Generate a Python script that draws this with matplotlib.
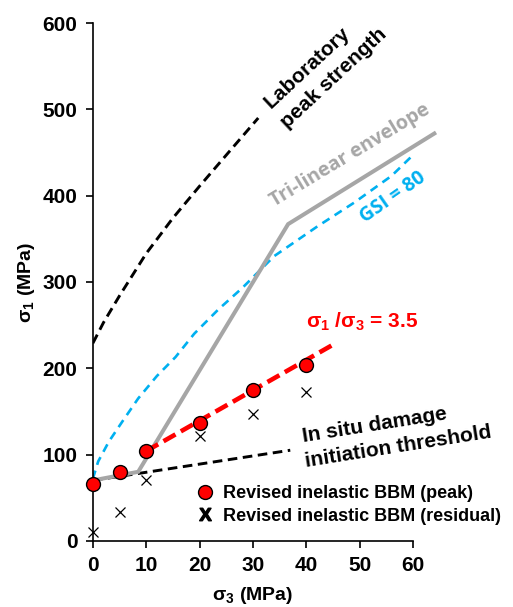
import matplotlib
matplotlib.use("Agg")
import matplotlib.pyplot as plt
from matplotlib.lines import Line2D
from matplotlib.font_manager import FontProperties

plt.rcParams['font.family'] = ['Liberation Sans', 'DejaVu Sans']
plt.rcParams['mathtext.fontset'] = 'custom'
plt.rcParams['mathtext.rm'] = 'Liberation Sans:bold'
plt.rcParams['mathtext.bf'] = 'Liberation Sans:bold'
plt.rcParams['mathtext.it'] = 'Liberation Sans:bold'
plt.rcParams['mathtext.default'] = 'bf'

# ---- data ----
peak_s3 = [0, 5, 10, 20, 30, 40]
peak_s1 = [66, 80, 104, 137, 175, 204]
resid_s3 = [0, 5, 10, 20, 30, 40]
resid_s1 = [10, 33, 70, 122, 147, 172]

lab_s3 = [0, 2, 5, 10, 15, 20, 25, 31]
lab_s1 = [229, 253, 284, 333, 374, 411, 447, 490]

gsi_s3 = [0, 1, 3, 5.5, 8.5, 12, 15.5, 19, 23.5, 28, 34, 42, 49, 56, 60]
gsi_s1 = [72, 92, 115, 138, 165, 191, 213, 240, 268, 293, 330, 364, 392, 423, 447]

tri_s3 = [0, 8.5, 36.6, 64]
tri_s1 = [70, 80, 367, 472]

dmg_s3 = [0, 37]
dmg_s1 = [70, 105]

ratio_s3 = [10, 45.5]
ratio_s1 = [104, 229]

xticks = [0, 10, 20, 30, 40, 50, 60]
yticks = [0, 100, 200, 300, 400, 500, 600]

GRAY = '#a6a6a6'
BLUE = '#00b0f0'
RED = '#ff0000'

bold = lambda size: FontProperties(family=['Liberation Sans', 'DejaVu Sans'],
                                   weight='bold', size=size)

fig = plt.figure(figsize=(5.13, 6.07), dpi=100)
ax = fig.add_axes([0.181, 0.109, 0.624, 0.853])

ax.plot(lab_s3, lab_s1, color='black', lw=2.1, dashes=(3.3, 1.9), zorder=2)
ax.plot(gsi_s3, gsi_s1, color=BLUE, lw=1.9, dashes=(3.2, 2.3), zorder=2)
ax.plot(tri_s3, tri_s1, color=GRAY, lw=2.9, zorder=3, clip_on=False,
        solid_joinstyle='miter')
ax.plot(dmg_s3, dmg_s1, color='black', lw=2.1, dashes=(3.3, 1.9), zorder=2)
ax.plot(ratio_s3, ratio_s1, color=RED, lw=3.3, dashes=(3.0, 1.35), zorder=4)

ax.plot(resid_s3, resid_s1, linestyle='none', marker='x', color='black',
        markersize=7, markeredgewidth=0.9, zorder=5, clip_on=False)
ax.plot(peak_s3, peak_s1, linestyle='none', marker='o', markerfacecolor=RED,
        markeredgecolor='black', markeredgewidth=1.0, markersize=10, zorder=6,
        clip_on=False)

ax.set_xlim(0, 60)
ax.set_ylim(0, 600)
ax.set_xticks(xticks)
ax.set_yticks(yticks)
for s in ['top', 'right']:
    ax.spines[s].set_visible(False)
for s in ['left', 'bottom']:
    ax.spines[s].set_linewidth(1.2)
ax.tick_params(direction='out', length=5, width=1.2, labelsize=15, pad=6)
for lab in ax.get_xticklabels() + ax.get_yticklabels():
    lab.set_fontproperties(bold(15))

ax.set_xlabel('σ$_3$ (MPa)', fontproperties=bold(14), labelpad=7)
ax.set_ylabel('σ$_1$ (MPa)', fontproperties=bold(14), labelpad=4)

# annotations
ax.text(40.2, 547.7, 'Laboratory', rotation=43, fontproperties=bold(15),
        ha='center', va='center', rotation_mode='anchor')
ax.text(45.2, 536.2, 'peak strength', rotation=43, fontproperties=bold(15),
        ha='center', va='center', rotation_mode='anchor')
ax.text(48.2, 447, 'Tri-linear envelope', rotation=31, fontsize=14,
        fontweight='bold', color=GRAY, ha='center', va='center',
        rotation_mode='anchor', family=['Open Sans', 'DejaVu Sans'])
ax.text(56.3, 398.6, 'GSI = 80', rotation=35, fontsize=14, fontweight='bold',
        color=BLUE, ha='center', va='center', rotation_mode='anchor',
        family=['Open Sans', 'DejaVu Sans'])
ax.text(50.4, 253.8, 'σ$_1$ /σ$_3$ = 3.5', fontproperties=bold(15),
        color=RED, ha='center', va='center')
ax.text(52.9, 134.4, 'In situ damage', rotation=9, fontproperties=bold(15),
        ha='center', va='center', rotation_mode='anchor')
ax.text(57.2, 108.6, 'initiation threshold', rotation=9, fontproperties=bold(15),
        ha='center', va='center', rotation_mode='anchor')

handles = [
    Line2D([], [], linestyle='none', marker='o', markerfacecolor=RED,
           markeredgecolor='black', markeredgewidth=1.0, markersize=10),
    Line2D([], [], linestyle='none', marker='$X$', color='black', markersize=9),
]
labels = ['Revised inelastic BBM (peak)', 'Revised inelastic BBM (residual)']
leg = ax.legend(handles, labels, loc='center left', bbox_to_anchor=(0.322, 0.0695),
                frameon=False, handlelength=1.0, handletextpad=0.5, borderpad=0,
                borderaxespad=0, labelspacing=0.3, prop=bold(13))

fig.savefig('out.png', dpi=100)
